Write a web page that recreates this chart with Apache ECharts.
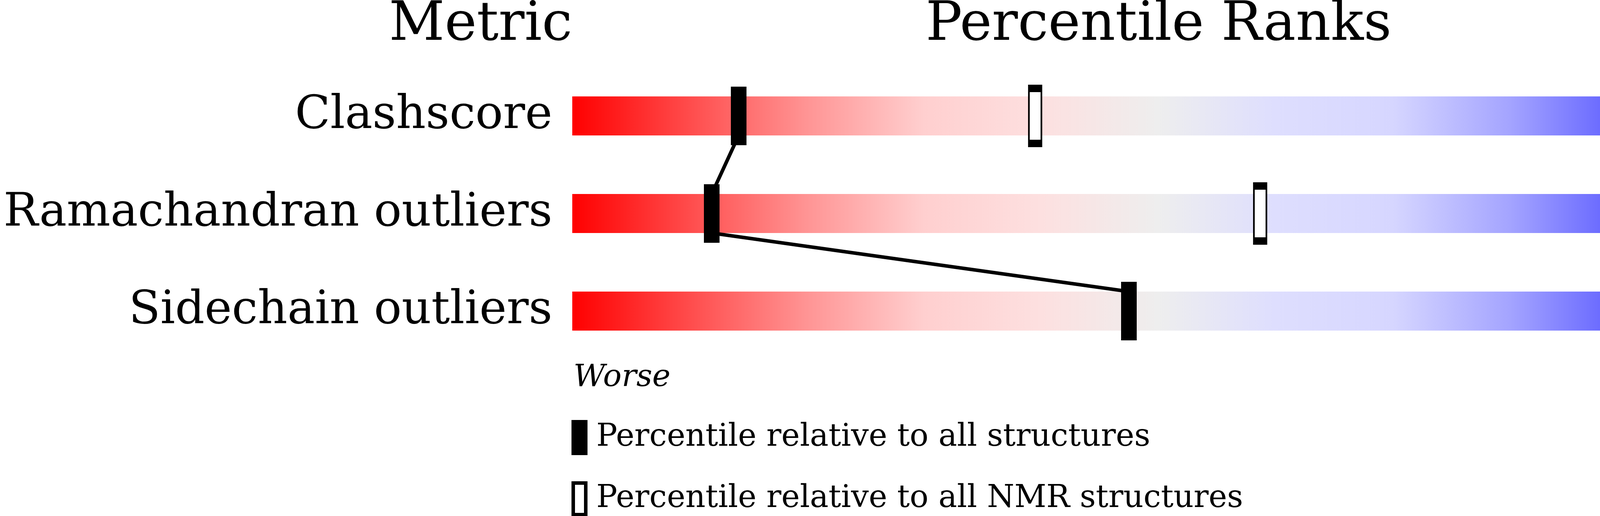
<!DOCTYPE html>
<html>
<head>
<meta charset="utf-8">
<script src="https://cdn.jsdelivr.net/npm/echarts@6/dist/echarts.min.js"></script>
<style>
  html, body { margin: 0; padding: 0; background: #fff; }
  #main { width: 4860px; height: 1322px; }
</style>
</head>
<body>
<div id="main"></div>
<script>
// data
var metrics = ['Clashscore', 'Ramachandran outliers', 'Sidechain outliers'];
var valueLabels = ['15', '1.4%', '2.2%'];
var pctAll = [14.2, 11.9, 47.5];   // percentile relative to all structures
var pctNmr = [39.5, 58.7, 91.2];   // percentile relative to all NMR structures
var fullScale = [100, 100, 100];
var seriesNames = ['Percentile relative to all structures', 'Percentile relative to all NMR structures'];

var FONT = 'DejaVu Serif';

var allPoints = pctAll.map(function (v, i) { return [v, i]; });
var nmrPoints = pctNmr.map(function (v, i) { return [v, i]; });
var links = [];
for (var i = 0; i < pctAll.length - 1; i++) {
    links.push([pctAll[i], i, pctAll[i + 1], i + 1]);
}

var chart = echarts.init(document.getElementById('main'), null, { renderer: 'canvas' });
chart.setOption({
    backgroundColor: '#fff',
    animation: false,
    grid: { left: 1465, right: 395, top: 172, height: 750, outerBoundsMode: 'none', containLabel: false },
    xAxis: {
        type: 'value', min: 0, max: 100,
        show: false
    },
    yAxis: [{
        type: 'category', inverse: true, data: metrics,
        axisLine: { show: false }, axisTick: { show: false }, splitLine: { show: false },
        axisLabel: { interval: 0, margin: 51, color: '#000', fontFamily: FONT, fontSize: 118 }
    }, {
        type: 'category', inverse: true, position: 'right', data: valueLabels,
        axisLine: { show: false }, axisTick: { show: false }, splitLine: { show: false },
        axisLabel: { interval: 0, margin: 60, color: '#000', fontFamily: FONT, fontSize: 118 }
    }],
    legend: {
        orient: 'vertical', left: 1463, top: 1076, height: 400, width: 2000, padding: 0,
        itemWidth: 32, itemHeight: 81, itemGap: 67,
        selectedMode: false,
        textStyle: { fontFamily: FONT, fontSize: 80, lineHeight: 81, color: '#000', padding: [0, 0, 0, 22] },
        data: [
            { name: seriesNames[0], icon: 'rect', itemStyle: { color: '#000', borderColor: '#000', borderWidth: 9 } },
            { name: seriesNames[1], icon: 'rect', itemStyle: { color: '#fff', borderColor: '#000', borderWidth: 9 } }
        ]
    },
    graphic: [
        { type: 'text', x: 1465, y: 66, style: { text: 'Metric', font: '139px "DejaVu Serif"', fill: '#000', align: 'right', verticalAlign: 'middle' } },
        { type: 'text', x: 2966, y: 66, style: { text: 'Percentile Ranks', font: '139px "DejaVu Serif"', fill: '#000', align: 'center', verticalAlign: 'middle' } },
        { type: 'text', x: 4463, y: 66, style: { text: 'Value', font: '139px "DejaVu Serif"', fill: '#000', align: 'left', verticalAlign: 'middle' } },
        { type: 'text', x: 1468, y: 968, style: { text: 'Worse', font: 'italic 79px "DejaVu Serif"', fill: '#000', align: 'left', verticalAlign: 'middle' } },
        { type: 'text', x: 4467, y: 968, style: { text: 'Better', font: 'italic 79px "DejaVu Serif"', fill: '#000', align: 'right', verticalAlign: 'middle' } }
    ],
    series: [{
        type: 'bar',
        data: fullScale,
        barWidth: 100,
        silent: true,
        z: 2,
        itemStyle: {
            color: new echarts.graphic.LinearGradient(0, 0, 1, 0, [
                { offset: 0, color: '#ff0000' },
                { offset: 0.1, color: '#ff4c4c' },
                { offset: 0.2, color: '#ff9494' },
                { offset: 0.3, color: '#ffcfcf' },
                { offset: 0.4, color: '#fde0e0' },
                { offset: 0.5, color: '#eeeeee' },
                { offset: 0.6, color: '#dedefe' },
                { offset: 0.7, color: '#d6d6ff' },
                { offset: 0.8, color: '#a4a4ff' },
                { offset: 0.9, color: '#5c5cff' },
                { offset: 1, color: '#0000ff' }
            ])
        }
    }, {
        type: 'custom',
        silent: true,
        z: 3,
        encode: { x: [0, 2], y: [1, 3] },
        data: links,
        renderItem: function (params, api) {
            var a = api.coord([api.value(0), api.value(1)]);
            var b = api.coord([api.value(2), api.value(3)]);
            var half = api.size([0, 1])[1] * 0.2;
            return {
                type: 'line',
                shape: { x1: a[0], y1: a[1] + half, x2: b[0], y2: b[1] - half },
                style: { stroke: '#000', lineWidth: 9 }
            };
        }
    }, {
        name: seriesNames[0],
        type: 'scatter',
        z: 4,
        symbol: 'rect',
        symbolSize: [40, 150],
        itemStyle: { color: '#000', opacity: 1 },
        data: allPoints
    }, {
        name: seriesNames[1],
        type: 'scatter',
        z: 4,
        symbol: 'rect',
        symbolSize: [32, 141],
        itemStyle: { color: '#fff', borderColor: '#000', borderWidth: 9, opacity: 1 },
        data: nmrPoints
    }]
});
</script>
</body>
</html>
